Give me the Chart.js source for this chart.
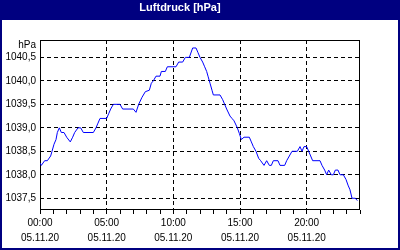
<!DOCTYPE html>
<html>
<head>
<meta charset="utf-8">
<script src="https://cdn.jsdelivr.net/npm/chart.js@4"></script>
<style>
  html, body { margin: 0; padding: 0; background: #000080; }
  #wrap { width: 400px; height: 250px; }
</style>
</head>
<body>
<div id="wrap"><canvas id="pressureChart" width="400" height="250"></canvas></div>
<script>
// hours since 00:00 and pressure readings (hPa)
const hours = [
  0.00, 0.10, 0.35, 0.55, 0.80, 0.90, 1.05, 1.20, 1.30, 1.45,
  1.60, 1.80, 2.00, 2.27, 2.45, 2.60, 2.85, 3.05, 3.25, 4.00,
  4.20, 4.35, 4.50, 5.00, 5.15, 5.30, 5.50, 6.00, 6.20, 7.00,
  7.20, 7.40, 7.65, 7.90, 8.20, 8.35, 8.50, 8.70, 9.00, 9.10,
  9.40, 9.55, 10.20, 10.40, 10.70, 10.90, 11.20, 11.45, 11.70, 11.85,
  12.00, 12.20, 12.35, 12.50, 12.60, 12.75, 12.90, 13.00, 13.50, 13.70,
  13.85, 14.00, 14.25, 14.40, 14.55, 14.80, 14.95, 15.10, 15.30, 15.70,
  15.85, 16.00, 16.20, 16.40, 16.55, 16.80, 17.00, 17.20, 17.35, 17.50,
  17.85, 18.00, 18.35, 18.50, 18.70, 18.90, 19.30, 19.50, 19.65, 19.80,
  20.00, 20.15, 20.30, 20.45, 21.00, 21.15, 21.35, 21.50, 21.65, 21.85,
  22.00, 22.15, 22.35, 22.50, 22.75, 22.95, 23.10, 23.25, 23.40, 23.65,
  23.80
];
const pressure = [
  1038.25, 1038.2, 1038.3, 1038.3, 1038.4, 1038.5, 1038.65, 1038.75, 1038.9, 1039.0,
  1038.9, 1038.9, 1038.8, 1038.7, 1038.8, 1038.9, 1039.0, 1039.0, 1038.9, 1038.9,
  1039.0, 1039.1, 1039.2, 1039.2, 1039.3, 1039.4, 1039.5, 1039.5, 1039.4, 1039.4,
  1039.33, 1039.5, 1039.65, 1039.77, 1039.8, 1039.95, 1040.0, 1040.1, 1040.1, 1040.2,
  1040.2, 1040.3, 1040.3, 1040.4, 1040.4, 1040.5, 1040.5, 1040.7, 1040.7, 1040.6,
  1040.5, 1040.4, 1040.3, 1040.2, 1040.1, 1039.95, 1039.8, 1039.7, 1039.7, 1039.6,
  1039.5, 1039.4, 1039.25, 1039.2, 1039.15, 1039.0, 1038.88, 1038.75, 1038.8, 1038.8,
  1038.7, 1038.6, 1038.5, 1038.35, 1038.3, 1038.2, 1038.3, 1038.2, 1038.2, 1038.3,
  1038.3, 1038.2, 1038.2, 1038.3, 1038.4, 1038.5, 1038.5, 1038.6, 1038.5, 1038.6,
  1038.6, 1038.5, 1038.4, 1038.3, 1038.3, 1038.2, 1038.1, 1038.0, 1038.1, 1038.0,
  1038.0, 1038.1, 1038.1, 1038.0, 1038.0, 1037.9, 1037.78, 1037.68, 1037.5, 1037.5,
  1037.45
];

const yTickValues = [1037.5, 1038.0, 1038.5, 1039.0, 1039.5, 1040.0, 1040.5];
const yTickLabels = ["1037,5", "1038,0", "1038,5", "1039,0", "1039,5", "1040,0", "1040,5"];
const unitLabel = "hPa";
const unitPos = 1040.76;

const xTimeLabels = ["00:00", "05:00", "10:00", "15:00", "20:00"];
const xDateLabel = "05.11.20";

const NAVY = "#000080";
const FONT = "'Liberation Sans', Arial, sans-serif";

// navy frame + title bar, black box around plot
const framePlugin = {
  id: "frame",
  beforeDraw(chart) {
    const c = chart.ctx;
    c.save();
    c.fillStyle = NAVY;
    c.fillRect(0, 0, chart.width, chart.height);
    c.fillStyle = "#fff";
    c.fillRect(2, 20, chart.width - 4, chart.height - 22);
    c.restore();
  },
  beforeDatasetsDraw(chart) {
    const a = chart.chartArea;
    const c = chart.ctx;
    c.save();
    c.strokeStyle = "#000";
    c.lineWidth = 1;
    c.strokeRect(a.left + 0.5, a.top + 0.5, a.right - a.left - 1, a.bottom - a.top - 1);
    c.restore();
  }
};

new Chart(document.getElementById("pressureChart"), {
  type: "line",
  data: {
    datasets: [{
      data: hours.map((h, i) => ({ x: h, y: pressure[i] })),
      borderColor: "#0000ff",
      borderWidth: 1,
      pointRadius: 0,
      tension: 0,
      fill: false
    }]
  },
  options: {
    responsive: false,
    animation: false,
    layout: { padding: { left: 0, right: 40, top: 0, bottom: 0 } },
    plugins: {
      legend: { display: false },
      tooltip: { enabled: false },
      title: {
        display: true,
        text: "Luftdruck [hPa]",
        color: "#fff",
        font: { family: FONT, size: 11, weight: "bold", lineHeight: "14px" },
        padding: { top: 1, bottom: 25 }
      }
    },
    scales: {
      x: {
        type: "linear",
        min: 0,
        max: 24,
        afterFit: (s) => { s.height = 40; },
        afterBuildTicks: (s) => {
          s.ticks = [];
          for (let h = 0; h <= 24; h++) s.ticks.push({ value: h });
        },
        ticks: {
          autoSkip: false,
          maxRotation: 0,
          color: "#000",
          padding: 2,
          font: { family: FONT, size: 10, lineHeight: "15px" },
          callback: (v) => (v % 5 === 0 && v / 5 < xTimeLabels.length) ? [xTimeLabels[v / 5], xDateLabel] : ""
        },
        border: { display: false, dash: [4, 3] },
        grid: {
          color: (ctx) => (ctx.tick && ctx.tick.value % 5 === 0 && ctx.tick.value > 0 && ctx.tick.value < 24) ? "#000" : "rgba(0,0,0,0)",
          tickColor: "#000",
          tickLength: 4,
          lineWidth: 1
        }
      },
      y: {
        min: 1037.25,
        max: 1040.87,
        afterFit: (s) => { s.width = 40; },
        afterBuildTicks: (s) => {
          s.ticks = yTickValues.map(v => ({ value: v }));
          s.ticks.push({ value: unitPos });
        },
        ticks: {
          color: "#000",
          padding: 4,
          font: { family: FONT, size: 10 },
          callback: (v, i) => (i < yTickLabels.length ? yTickLabels[i] : unitLabel)
        },
        border: { display: false, dash: [4, 3] },
        grid: {
          drawTicks: false,
          color: (ctx) => (ctx.tick && ctx.tick.value === unitPos) ? "rgba(0,0,0,0)" : "#000",
          lineWidth: 1
        }
      }
    }
  },
  plugins: [framePlugin]
});
</script>
</body>
</html>
